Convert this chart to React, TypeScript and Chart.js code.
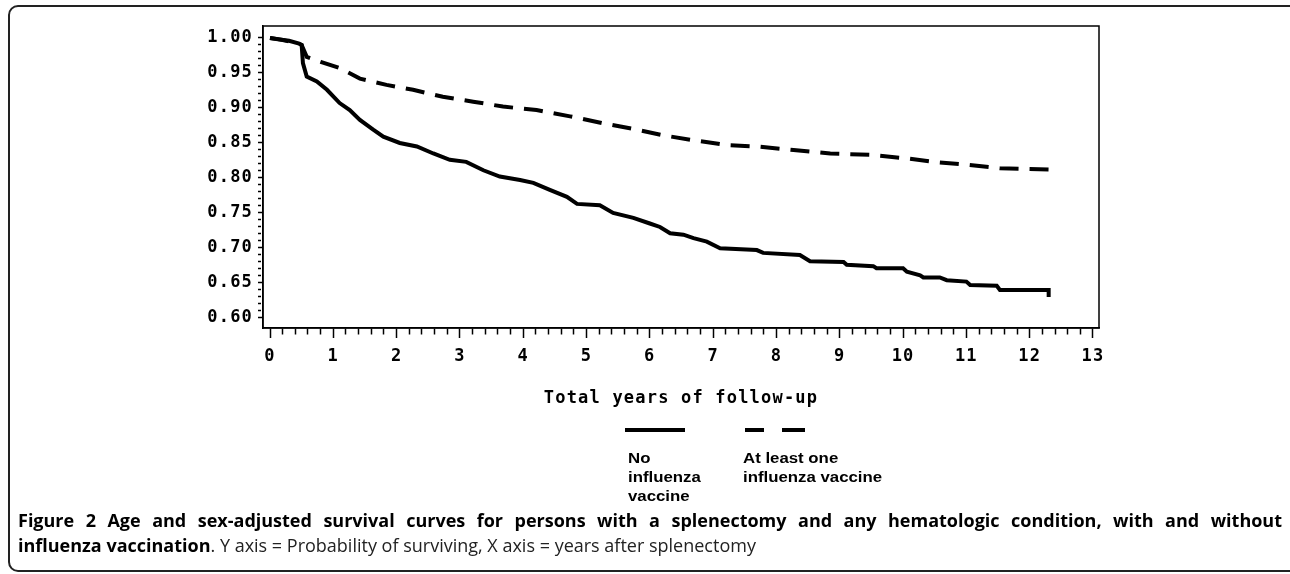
import React, { useEffect, useRef } from "react";
import { Chart, registerables } from "chart.js";

Chart.register(...registerables);

// ---- Data ----
const noVaccineTime = [
  0, 0.15, 0.3, 0.46, 0.5, 0.52, 0.58, 0.74, 0.9, 1.1, 1.26, 1.42, 1.63, 1.79,
  2.05, 2.32, 2.58, 2.84, 3.1, 3.37, 3.63, 3.95, 4.16, 4.42, 4.69, 4.85, 5.21,
  5.42, 5.74, 6.0, 6.16, 6.32, 6.53, 6.69, 6.9, 7.11, 7.69, 7.79, 8.37, 8.53,
  9.06, 9.11, 9.53, 9.58, 10.0, 10.06, 10.27, 10.32, 10.58, 10.69, 11.0, 11.06,
  11.48, 11.53, 12.3, 12.3,
];
const noVaccineSurvival = [
  1.0, 0.998, 0.996, 0.992, 0.99, 0.964, 0.945, 0.938, 0.926, 0.907, 0.897,
  0.883, 0.869, 0.859, 0.85, 0.845, 0.835, 0.826, 0.823, 0.811, 0.802, 0.797,
  0.793, 0.783, 0.773, 0.763, 0.761, 0.75, 0.743, 0.735, 0.73, 0.721, 0.719,
  0.714, 0.709, 0.6995, 0.697, 0.693, 0.69, 0.681, 0.68, 0.676, 0.674, 0.671,
  0.671, 0.666, 0.661, 0.658, 0.658, 0.654, 0.652, 0.647, 0.646, 0.64, 0.64,
  0.63,
];

const vaccineTime = [
  0, 0.2, 0.45, 0.5, 0.58, 0.8, 1.1, 1.42, 1.84, 2.26, 2.73, 3.21, 3.68, 4.21,
  4.74, 5.27, 5.8, 6.21, 6.68, 7.22, 7.69, 8.27, 8.85, 9.48, 10.06, 10.48,
  11.01, 11.53, 12.3,
];
const vaccineSurvival = [
  1.0, 0.997, 0.992, 0.99, 0.973, 0.966, 0.957, 0.942, 0.933, 0.926, 0.916,
  0.909, 0.902, 0.897, 0.888, 0.878, 0.869, 0.861, 0.854, 0.847, 0.845, 0.84,
  0.835, 0.833, 0.828, 0.823, 0.819, 0.814, 0.812,
];

const seriesLabels = ["No influenza vaccine", "At least one influenza vaccine"];

const xMajorTicks = [0, 1, 2, 3, 4, 5, 6, 7, 8, 9, 10, 11, 12, 13];
const yMajorTicks = [0.6, 0.65, 0.7, 0.75, 0.8, 0.85, 0.9, 0.95, 1.0];
const minorDivisions = 5;

const xTitle = "Total years of follow-up";

const X_MIN = -0.1106;
const X_MAX = 13.095;
const Y_MIN = 0.5857;
const Y_MAX = 1.0171;

// ---- helpers ----
function withMinor(majors: number[]) {
  const out: number[] = [];
  for (let i = 0; i < majors.length; i++) {
    out.push(majors[i]);
    if (i < majors.length - 1) {
      const step = (majors[i + 1] - majors[i]) / minorDivisions;
      for (let k = 1; k < minorDivisions; k++) out.push(majors[i] + step * k);
    }
  }
  return out;
}
const isMajor = (majors: number[], v: number) =>
  majors.some((m) => Math.abs(m - v) < 1e-6);

const SAS_FONT = { family: "'DejaVu Sans Mono', monospace", weight: "bold" as const, size: 17 };

const framePlugin = {
  id: "sasFrame",
  beforeDraw(chart: any) {
    (chart.ctx as any).letterSpacing = "1.2px";
  },
  afterDraw(chart: any) {
    const { ctx, chartArea: a } = chart;
    ctx.save();
    ctx.strokeStyle = "#000";
    ctx.lineWidth = 1.5;
    ctx.setLineDash([]);
    ctx.strokeRect(a.left, a.top, a.right - a.left, a.bottom - a.top);
    ctx.restore();
  },
};

function SurvivalChart() {
  const ref = useRef<HTMLCanvasElement | null>(null);
  useEffect(() => {
    if (!ref.current) return;
    const xTicks = withMinor(xMajorTicks);
    const yTicks = withMinor(yMajorTicks);
    const chart = new Chart(ref.current, {
      type: "line",
      data: {
        datasets: [
          {
            label: seriesLabels[0],
            data: noVaccineTime.map((t, i) => ({ x: t, y: noVaccineSurvival[i] })),
            borderColor: "#000",
            borderWidth: 4,
            pointRadius: 0,
            fill: false,
            tension: 0,
          },
          {
            label: seriesLabels[1],
            data: vaccineTime.map((t, i) => ({ x: t, y: vaccineSurvival[i] })),
            borderColor: "#000",
            borderWidth: 4,
            borderDash: [19, 11],
            pointRadius: 0,
            fill: false,
            tension: 0,
          },
        ],
      },
      options: {
        animation: false,
        responsive: false,
        devicePixelRatio: 1,
        layout: { padding: { left: 0, right: 191, top: 26, bottom: 11 } },
        plugins: {
          legend: { display: false },
          tooltip: { enabled: false },
        },
        scales: {
          x: {
            type: "linear",
            position: "bottom",
            min: X_MIN,
            max: X_MAX,
            afterBuildTicks: (scale: any) => {
              scale.ticks = xTicks.map((v) => ({ value: v }));
            },
            afterFit: (scale: any) => {
              scale.height = 81;
            },
            grid: {
              drawOnChartArea: false,
              drawTicks: true,
              tickLength: 10,
              tickColor: "#000",
              tickWidth: 1.5,
              tickBorderDash: (c: any) =>
                c.tick && !isMajor(xMajorTicks, c.tick.value) ? [6, 100] : [],
            },
            border: { display: true, color: "#000", width: 1.5 },
            ticks: {
              autoSkip: false,
              maxRotation: 0,
              minRotation: 0,
              padding: 8,
              color: "#000",
              font: SAS_FONT,
              callback: (v: any) =>
                isMajor(xMajorTicks, Number(v)) ? String(Math.round(Number(v))) : "",
            },
            title: {
              display: true,
              text: xTitle,
              color: "#000",
              font: SAS_FONT,
              padding: { top: 0, bottom: 0 },
            },
          },
          y: {
            type: "linear",
            min: Y_MIN,
            max: Y_MAX,
            afterBuildTicks: (scale: any) => {
              scale.ticks = yTicks.map((v) => ({ value: v }));
            },
            afterFit: (scale: any) => {
              scale.width = 263;
            },
            grid: {
              drawOnChartArea: false,
              drawTicks: true,
              tickLength: 5,
              tickColor: "#000",
              tickWidth: 1.5,
              tickBorderDash: (c: any) =>
                c.tick && !isMajor(yMajorTicks, c.tick.value) ? [3, 100] : [],
            },
            border: { display: true, color: "#000", width: 1.5 },
            ticks: {
              autoSkip: false,
              padding: 5,
              color: "#000",
              font: SAS_FONT,
              callback: (v: any) =>
                isMajor(yMajorTicks, Number(v)) ? Number(v).toFixed(2) : "",
            },
          },
        },
      },
      plugins: [framePlugin],
    });
    return () => chart.destroy();
  }, []);

  return (
    <canvas
      ref={ref}
      width={1290}
      height={420}
      style={{ position: "fixed", left: 0, top: 0, display: "block" }}
    />
  );
}

const legendText: React.CSSProperties = {
  position: "fixed",
  fontFamily: "'Liberation Sans', Arial, sans-serif",
  fontWeight: "bold",
  fontSize: 14,
  lineHeight: "19px",
  color: "#000",
  transform: "scaleX(1.2)",
  transformOrigin: "left top",
  whiteSpace: "nowrap",
};

export default function App() {
  return (
    <div>
      <div
        style={{
          position: "fixed",
          left: 8,
          top: 5,
          width: 1300,
          height: 567,
          boxSizing: "border-box",
          border: "2px solid #222",
          borderRadius: 10,
        }}
      />
      <SurvivalChart />
      {/* Legend */}
      <div style={{ position: "fixed", left: 625, top: 428, width: 60, height: 4, background: "#000" }} />
      <div style={{ position: "fixed", left: 745, top: 428, width: 19, height: 4, background: "#000" }} />
      <div style={{ position: "fixed", left: 782, top: 428, width: 23, height: 4, background: "#000" }} />
      <div style={{ ...legendText, left: 628, top: 449 }}>
        No
        <br />
        influenza
        <br />
        vaccine
      </div>
      <div style={{ ...legendText, left: 743, top: 449 }}>
        At least one
        <br />
        influenza vaccine
      </div>
      {/* Caption */}
      <div
        style={{
          position: "fixed",
          left: 18,
          top: 508,
          width: 1264,
          fontFamily: "'Open Sans', sans-serif",
          fontSize: 18,
          lineHeight: "25px",
          color: "#222",
        }}
      >
        <div style={{ whiteSpace: "nowrap", textAlign: "justify", textAlignLast: "justify", fontWeight: "bold", color: "#000" }}>
          Figure 2 Age and sex-adjusted survival curves for persons with a splenectomy and any hematologic condition, with and without
        </div>
        <div style={{ whiteSpace: "nowrap" }}>
          <span style={{ fontWeight: "bold", color: "#000" }}>influenza vaccination</span>. Y axis = Probability of surviving, X axis = years after splenectomy
        </div>
      </div>
    </div>
  );
}
